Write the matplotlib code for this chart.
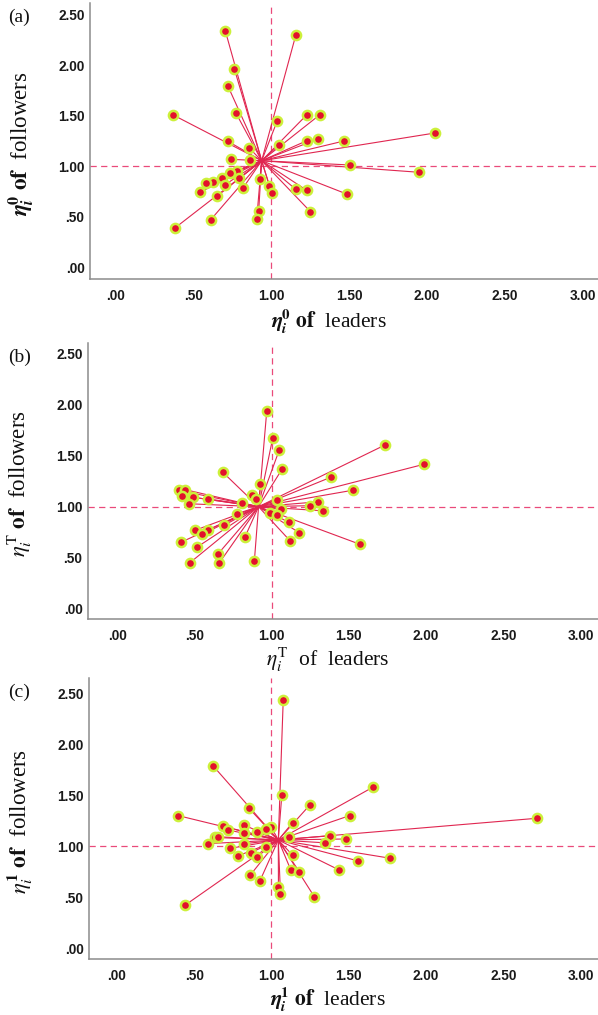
import matplotlib
matplotlib.use("Agg")
import matplotlib.pyplot as plt

# ---------------- data ----------------
lead_a = [0.703, 1.156, 0.761, 0.720, 0.368, 0.770, 1.037, 0.720, 0.855, 1.050,
          0.738, 0.859, 0.780, 0.736, 0.680, 0.627, 0.579, 0.701, 0.793, 0.819,
          0.538, 0.650, 0.926, 0.987, 1.001, 0.918, 0.905, 0.608, 0.379, 1.226,
          1.309, 2.051, 1.226, 1.299, 1.466, 1.505, 1.947, 1.156, 1.228, 1.489, 1.251]
foll_a = [2.341, 2.295, 1.965, 1.794, 1.508, 1.531, 1.449, 1.248, 1.185, 1.214,
          1.070, 1.060, 0.953, 0.930, 0.890, 0.846, 0.833, 0.819, 0.882, 0.791,
          0.742, 0.705, 0.880, 0.808, 0.739, 0.562, 0.480, 0.470, 0.391, 1.508,
          1.508, 1.330, 1.253, 1.271, 1.251, 1.014, 0.942, 0.774, 0.762, 0.724, 0.552]
hub_a = (0.937, 1.056)

lead_b = [0.969, 1.008, 1.050, 1.068, 0.685, 0.928, 0.403, 0.442, 0.423, 0.494,
          0.586, 0.464, 0.807, 0.876, 0.898, 1.038, 0.775, 0.694, 0.507, 0.586,
          0.551, 0.413, 0.516, 0.827, 0.656, 0.472, 0.663, 0.889, 0.989, 1.063,
          1.038, 1.110, 1.180, 1.122, 1.737, 1.987, 1.382, 1.524, 1.302, 1.251,
          1.330, 1.573]
foll_b = [1.937, 1.675, 1.555, 1.367, 1.336, 1.219, 1.158, 1.166, 1.107, 1.091,
          1.077, 1.028, 1.032, 1.111, 1.077, 1.065, 0.930, 0.818, 0.769, 0.769,
          0.728, 0.650, 0.601, 0.699, 0.540, 0.450, 0.450, 0.470, 0.942, 0.972,
          0.918, 0.847, 0.743, 0.661, 1.606, 1.415, 1.287, 1.160, 1.047, 1.009,
          0.959, 0.630]
hub_b = (0.916, 0.999)

lead_c = [1.076, 0.623, 1.067, 0.393, 0.856, 1.137, 0.686, 0.718, 0.824, 0.825,
          0.904, 0.997, 0.966, 1.115, 0.632, 0.656, 0.586, 0.825, 0.733, 0.865,
          0.782, 0.906, 0.964, 1.137, 1.125, 0.862, 0.924, 1.045, 1.058, 0.442,
          1.659, 1.248, 1.508, 2.720, 1.379, 1.479, 1.348, 1.558, 1.770, 1.181,
          1.438, 1.277]
foll_c = [2.441, 1.791, 1.506, 1.304, 1.373, 1.235, 1.198, 1.161, 1.209, 1.132,
          1.145, 1.194, 1.169, 1.095, 1.088, 1.095, 1.027, 1.027, 0.981, 0.938,
          0.906, 0.896, 0.997, 0.913, 0.768, 0.716, 0.657, 0.600, 0.531, 0.423,
          1.585, 1.407, 1.304, 1.277, 1.105, 1.073, 1.035, 0.858, 0.883, 0.748,
          0.768, 0.505]
hub_c = (1.044, 1.063)

xticks = [0.0, 0.5, 1.0, 1.5, 2.0, 2.5, 3.0]
xticklabels = [".00", ".50", "1.00", "1.50", "2.00", "2.50", "3.00"]
yticks = [0.0, 0.5, 1.0, 1.5, 2.0, 2.5]
yticklabels = [".00", ".50", "1.00", "1.50", "2.00", "2.50"]

panel_tags = ["(a)", "(b)", "(c)"]
xlabels = [r"$\mathbfit{\eta}_{\mathbfit{i}}^{\mathbf{0}}$ $\mathbf{of}$  leaders",
           r"$\eta_i^{\mathrm{T}}$  of  leaders",
           r"$\mathbfit{\eta}_{\mathbfit{i}}^{\mathbf{1}}$ $\mathbf{of}$  leaders"]
ylabels = [r"$\mathbfit{\eta}_{\mathbfit{i}}^{\mathbf{0}}$ $\mathbf{of}$  followers",
           r"$\eta_i^{\mathrm{T}}$ $\mathbf{of}$  followers",
           r"$\eta_i^{\mathbf{1}}$ $\mathbf{of}$  followers"]

# ---------------- style ----------------
plt.rcParams["mathtext.fontset"] = "stix"
plt.rcParams["font.family"] = ["Liberation Serif", "DejaVu Serif"]

RED = "#e3102c"
HALO = "#cdf03a"
LINE = "#e02650"
DASH = "#ea4a7a"
SPINE = "#8c8c8c"

fig = plt.figure(figsize=(5.98, 10.15), dpi=100)

rects = [(90/598, 1-279/1015, (598-90)/598, 276/1015),
         (88/598, 1-619/1015, (598-88)/598, 276/1015),
         (89/598, 1-959/1015, (598-89)/598, 281/1015)]
xlims = [(-0.167, 3.10), (-0.188, 3.113), (-0.181, 3.113)]
ylims = [(-0.113, 2.615), (-0.102, 2.604), (-0.108, 2.657)]
xlab_y = [-0.155, -0.149, -0.143]
data = [(lead_a, foll_a, hub_a), (lead_b, foll_b, hub_b), (lead_c, foll_c, hub_c)]

for k in range(3):
    ax = fig.add_axes(rects[k])
    lx, fy, hub = data[k]
    ax.set_xlim(*xlims[k])
    ax.set_ylim(*ylims[k])
    ax.axvline(1.0, color=DASH, lw=0.9, ls=(0, (5, 3.5)), zorder=1)
    ax.axhline(1.0, color=DASH, lw=0.9, ls=(0, (5, 3.5)), zorder=1)
    for x, y in zip(lx, fy):
        ax.plot([hub[0], x], [hub[1], y], color=LINE, lw=0.8, zorder=2)
    ax.plot(lx, fy, ls="none", marker="o", ms=6.6, mfc=RED, mec=HALO, mew=1.8, zorder=3)

    ax.set_xticks(xticks)
    ax.set_xticklabels(xticklabels)
    ax.set_yticks(yticks)
    ax.set_yticklabels(yticklabels)
    ax.tick_params(length=0, labelsize=9.8, colors="#1a1a1a")
    ax.tick_params(axis="x", pad=7)
    ax.tick_params(axis="y", pad=4)
    for lab in ax.get_xticklabels() + ax.get_yticklabels():
        lab.set_fontfamily("Liberation Sans")
        lab.set_fontweight("bold")
    for s in ["top", "right"]:
        ax.spines[s].set_visible(False)
    for s in ["left", "bottom"]:
        ax.spines[s].set_color(SPINE)
        ax.spines[s].set_linewidth(1.1)

    ax.text(0.47, xlab_y[k], xlabels[k], transform=ax.transAxes, ha="center",
            va="center", fontsize=15.5, color="#111111")
    ax.text(-0.135, 0.49, ylabels[k], transform=ax.transAxes, ha="center",
            va="center", fontsize=16.5, rotation=90, color="#111111")

    pos = ax.get_position()
    fig.text(8/598, pos.y1 - 14/1015, panel_tags[k], fontsize=14,
             ha="left", va="center", color="#111111")

fig.savefig("out.png", dpi=100)
